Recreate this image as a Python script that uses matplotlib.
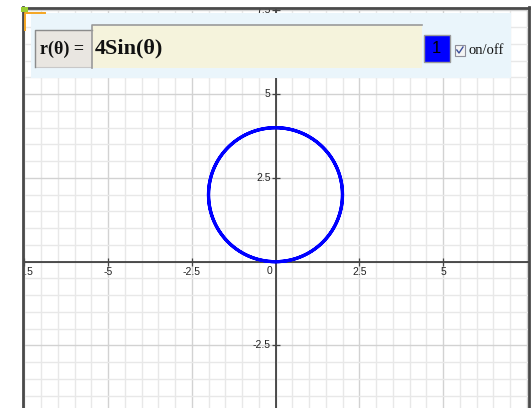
import numpy as np
import matplotlib.pyplot as plt
from matplotlib.patches import Rectangle
from matplotlib.ticker import MultipleLocator

# polar function shown in the editor: r(theta) = coef * sin(theta)
coef = 4
theta = np.linspace(0, 2 * np.pi, 721)
r = coef * np.sin(theta)

x_ticks = [-7.5, -5, -2.5, 2.5, 5]
x_labels = ['-7.5', '-5', '-2.5', '2.5', '5']
y_ticks = [-2.5, 2.5, 5, 7.5]
y_labels = ['-2.5', '2.5', '5', '7.5']
func_label = 'r(θ) ='
expr_text = '4Sin(θ)'
curve_id = '1'
toggle_text = 'on/off'

W, H = 531, 408
fig = plt.figure(figsize=(W / 100, H / 100), dpi=100)

# graph area in pixels, origin and pixels per unit
L, R, T, B = 23, 528.5, 7.5, 408
ox, oy, scale = 275.5, 261.7, 33.5
ax = fig.add_axes([L / W, 1 - B / H, (R - L) / W, (B - T) / H])
ax.set_xlim((L - ox) / scale, (R - ox) / scale)
ax.set_ylim((oy - B) / scale, (oy - T) / scale)

# grid paper
for axis in (ax.xaxis, ax.yaxis):
    axis.set_major_locator(MultipleLocator(2.5))
    axis.set_minor_locator(MultipleLocator(0.5))
ax.set_axisbelow(True)
ax.grid(which='minor', color='#e8e8e8', lw=1.0)
ax.grid(which='major', color='#d2d2d2', lw=1.0)
ax.tick_params(which='both', length=0, labelbottom=False, labelleft=False)

for side in ('left', 'top', 'right'):
    ax.spines[side].set_color('#4a4a4a')
    ax.spines[side].set_linewidth(2.0)
    ax.spines[side].set_zorder(10)
ax.spines['bottom'].set_visible(False)

# axes through the origin with crossing ticks
ax.axhline(0, color='#222222', lw=1.1, zorder=3)
ax.axvline(0, color='#222222', lw=1.1, zorder=3)
ax.plot(x_ticks, np.zeros(len(x_ticks)), ls='none', marker='|', ms=6,
        mew=0.9, color='#444444', zorder=3)
ax.plot(np.zeros(len(y_ticks)), y_ticks, ls='none', marker='_', ms=6,
        mew=0.9, color='#444444', zorder=3)

lab = dict(fontsize=7.5, family='Liberation Sans', color='#222222',
           textcoords='offset pixels', clip_on=True, zorder=2.8)
for v, s in zip(x_ticks, x_labels):
    ax.annotate(s, (v, 0), xytext=(0, -10), ha='center', va='center', **lab)
for v, s in zip(y_ticks, y_labels):
    ax.annotate(s, (0, v), xytext=(-5, 0), ha='right', va='center', **lab)
ax.annotate('0', (0, 0), xytext=(-3.5, -9), ha='right', va='center', **lab)

# the curve
ax.plot(r * np.cos(theta), r * np.sin(theta), color='#0000ff', lw=2.3,
        zorder=4, solid_capstyle='round')

# editor panel drawn on top in pixel coordinates
ov = fig.add_axes([0, 0, 1, 1], zorder=5)
ov.set_xlim(0, W)
ov.set_ylim(H, 0)
ov.axis('off')
ov.patch.set_visible(False)


def box(x0, y0, x1, y1, **kw):
    ov.add_patch(Rectangle((x0, y0), x1 - x0, y1 - y0, **kw))


box(30.5, 13, 511, 78, fc='#eaf5fb', ec='none')
box(34.7, 30, 91.7, 67, fc='#e9e6e1', ec='#c8c8c8', lw=0.8)
ov.plot([34.7, 34.7, 91.7], [67, 30, 30], color='#8c8c8c', lw=1.0)
box(92.3, 25.4, 421.7, 67.7, fc='#f5f3dc', ec='none')
ov.plot([92.3, 92.3, 421.7], [67.7, 25.4, 25.4], color='#9a9a9a', lw=1.2)
ov.text(40, 49, func_label, ha='left', va='center', fontsize=13,
        family='Liberation Serif', weight='bold', color='#111111')
ov.text(94.5, 48.5, expr_text, ha='left', va='center', fontsize=16,
        family='Liberation Serif', weight='bold', color='#111111')

box(423.5, 35, 449.5, 61.5, fc='#0000ff', ec='#9a9a9a', lw=1.0)
ov.text(436.5, 48.5, curve_id, ha='center', va='center', fontsize=12,
        family='Liberation Sans', color='black')
box(454.5, 45, 465, 55.5, fc='#f4f4f4', ec='#8e8e9a', lw=0.8)
ov.plot([456.8, 459, 463], [50, 53, 47], color='#3b4f9c', lw=1.0)
ov.text(468.5, 50.5, toggle_text, ha='left', va='center', fontsize=10.5,
        family='Liberation Serif', color='#111111')

# selection corner
box(20.7, 6.7, 28.3, 11.7, fc='#9acd32', ec='none')
ov.plot([25, 25, 45], [30, 12.5, 12.5], color='#f5a623', lw=1.4)

fig.savefig('out.png', dpi=100)
